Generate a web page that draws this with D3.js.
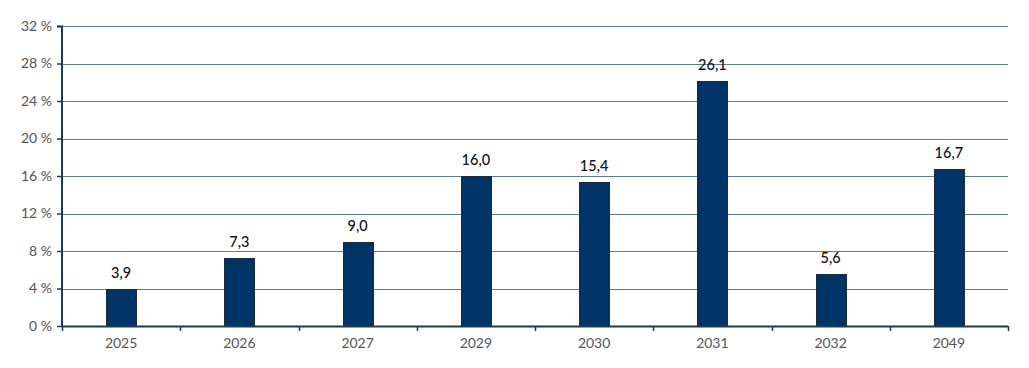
<!DOCTYPE html>
<html>
<head>
<meta charset="utf-8">
<script src="https://cdn.jsdelivr.net/npm/d3@7"></script>
<style>
  body { margin: 0; background: #fff; }
  text { font-family: Lato, "Open Sans", sans-serif; }
</style>
</head>
<body>
<div id="chart"></div>
<script>
// chart data
var years = ["2025", "2026", "2027", "2029", "2030", "2031", "2032", "2049"];
var shares = [3.9, 7.3, 9.0, 16.0, 15.4, 26.1, 5.6, 16.7];
var yTicks = [0, 4, 8, 12, 16, 20, 24, 28, 32];

var svgWidth = 1029;
var svgHeight = 368;

var margin = { top: 26, right: 21, bottom: 42, left: 62 };
var width = svgWidth - margin.left - margin.right;
var height = svgHeight - margin.top - margin.bottom;

var svg = d3.select("#chart")
  .append("svg")
  .attr("width", svgWidth)
  .attr("height", svgHeight);

var chartGroup = svg.append("g")
  .attr("transform", `translate(${margin.left}, ${margin.top})`);

var xScale = d3.scaleBand()
  .domain(years)
  .range([0, width])
  .paddingInner(0.745)
  .paddingOuter(0.3725);

var yScale = d3.scaleLinear()
  .domain([0, 32])
  .range([height, 0]);

var axisColor = "#1d3a5c";

// horizontal grid lines
chartGroup.selectAll(".grid")
  .data(yTicks.filter(d => d > 0))
  .enter()
  .append("line")
  .attr("x1", 0)
  .attr("x2", width)
  .attr("y1", d => Math.round(yScale(d)) + 0.5)
  .attr("y2", d => Math.round(yScale(d)) + 0.5)
  .attr("stroke", "#5f7c97")
  .attr("stroke-width", 1);

// bars
chartGroup.selectAll("rect")
  .data(shares)
  .enter()
  .append("rect")
  .attr("x", (d, i) => Math.round(xScale(years[i])) + 0.5)
  .attr("y", d => Math.round(yScale(d)) + 0.5)
  .attr("width", Math.round(xScale.bandwidth()))
  .attr("height", d => height - Math.round(yScale(d)))
  .attr("fill", "#003366")
  .attr("stroke", "#1c2c3c")
  .attr("stroke-width", 1);

// value labels
chartGroup.selectAll(".value")
  .data(shares)
  .enter()
  .append("text")
  .attr("x", (d, i) => xScale(years[i]) + xScale.bandwidth() / 2)
  .attr("y", d => yScale(d) - 11)
  .attr("text-anchor", "middle")
  .attr("font-size", "14.5px")
  .attr("font-weight", 500)
  .attr("fill", "#111")
  .text(d => d.toFixed(1).replace(".", ","));

// y axis
var leftAxis = d3.axisLeft(yScale)
  .tickValues(yTicks)
  .tickSize(5)
  .tickPadding(5)
  .tickFormat(d => d + " %");

var yAxis = chartGroup.append("g").call(leftAxis);
yAxis.select(".domain").attr("stroke", axisColor).attr("stroke-width", 2)
  .attr("d", `M-5,0.5H0V${height}`);
yAxis.selectAll(".tick line").attr("stroke", axisColor).attr("stroke-width", 1.5);
yAxis.selectAll(".tick text")
  .attr("font-size", "14px")
  .attr("fill", "#555")
  .style("font-family", "Lato, 'Open Sans', sans-serif");

// x axis with ticks between categories
var xAxis = chartGroup.append("g")
  .attr("transform", `translate(0, ${height})`);

xAxis.append("line")
  .attr("x1", 0)
  .attr("x2", width)
  .attr("y1", 0.5)
  .attr("y2", 0.5)
  .attr("stroke", axisColor)
  .attr("stroke-width", 2);

var step = xScale.step();
xAxis.selectAll(".xtick")
  .data(d3.range(years.length + 1))
  .enter()
  .append("line")
  .attr("x1", i => Math.round(i * step) + 0.5)
  .attr("x2", i => Math.round(i * step) + 0.5)
  .attr("y1", 0)
  .attr("y2", 5)
  .attr("stroke", axisColor)
  .attr("stroke-width", 1.5);

xAxis.selectAll(".xlabel")
  .data(years)
  .enter()
  .append("text")
  .attr("x", d => xScale(d) + xScale.bandwidth() / 2)
  .attr("y", 22)
  .attr("text-anchor", "middle")
  .attr("font-size", "14px")
  .attr("fill", "#555")
  .text(d => d);
</script>
</body>
</html>
